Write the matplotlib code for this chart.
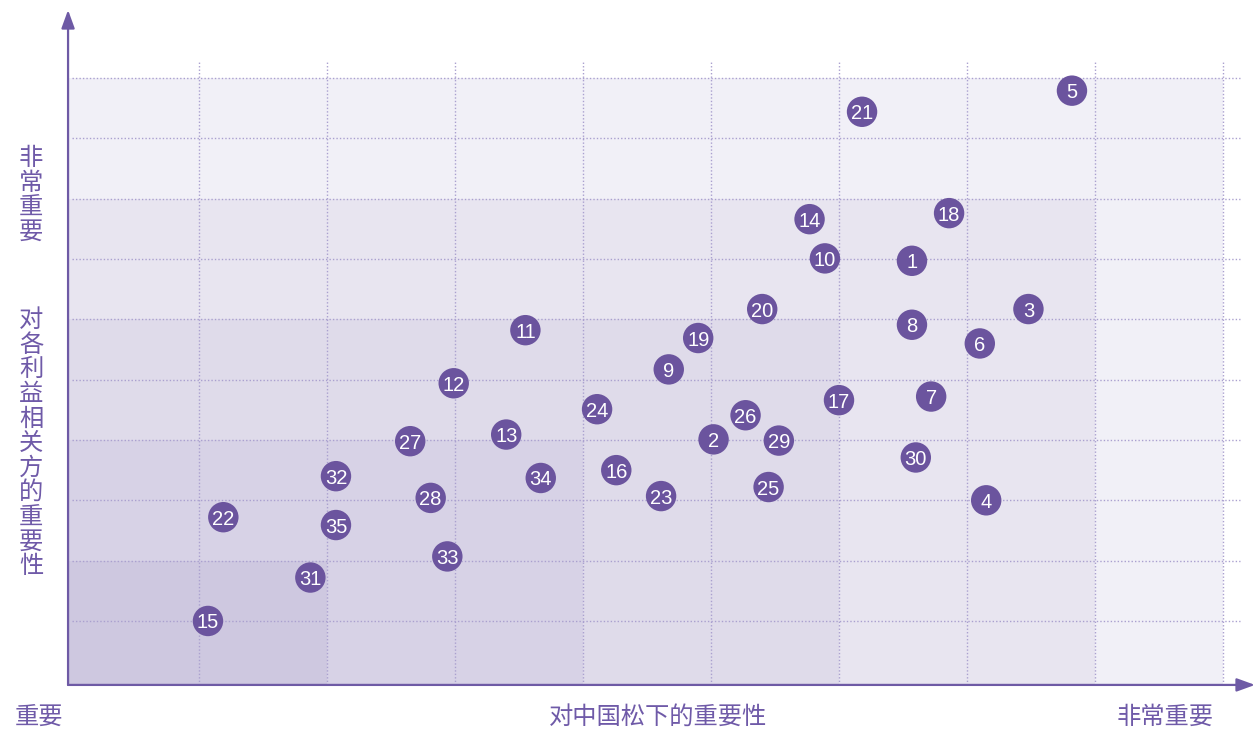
import matplotlib.pyplot as plt
from matplotlib.patches import Rectangle

plt.rcParams['font.family'] = ['Noto Sans CJK SC', 'DejaVu Sans']

# 议题编号及其在矩阵中的位置（横轴：对中国松下的重要性，纵轴：对各利益相关方的重要性）
ids = list(range(1, 36))
x_val = [6.57, 5.02, 7.48, 7.15, 7.82, 7.10, 6.72, 6.57, 4.67, 5.89,
         3.55, 2.99, 3.40, 5.77, 1.07, 4.26, 6.00, 6.86, 4.90, 5.40,
         6.18, 1.19, 4.61, 4.11, 5.45, 5.27, 2.65, 2.81, 5.53, 6.60,
         1.87, 2.07, 2.94, 3.67, 2.07]
y_val = [6.97, 4.01, 6.17, 3.00, 9.79, 5.60, 4.72, 5.91, 5.17, 7.01,
         5.82, 4.94, 4.09, 7.66, 1.00, 3.50, 4.66, 7.76, 5.69, 6.17,
         9.44, 2.72, 3.07, 4.51, 3.22, 4.41, 3.98, 3.04, 3.99, 3.71,
         1.72, 3.40, 2.07, 3.37, 2.59]

# 背景分区（右上角坐标），由浅到深
zone_x = [9, 8, 6, 4, 2]
zone_y = [10, 8, 6, 4, 2]
zone_colors = ['#f1f0f7', '#e8e5f0', '#dfdbea', '#d7d2e6', '#cec8e0']

purple = '#6b549e'
line_purple = '#6e5aa5'
text_purple = '#6f5aa8'
grid_color = '#aaa0cf'

fig = plt.figure(figsize=(12.55, 7.32), dpi=100)
ax = fig.add_axes([0, 0, 1, 1])
# 一个格子 = 128 px 宽、60.33 px 高
ax.set_xlim(-71 / 128, (1255 - 71) / 128)
ax.set_ylim((681.3 - 732) / 60.33, 681.3 / 60.33)
ax.axis('off')

x0, y0 = -0.023, -0.06

for zx, zy, c in zip(zone_x, zone_y, zone_colors):
    ax.add_patch(Rectangle((x0, y0), zx - x0, zy - y0, facecolor=c,
                           edgecolor='none', zorder=0))

# 虚线网格
for gx in range(1, 10):
    ax.plot([gx, gx], [y0, 10.3], color=grid_color, lw=1.0,
            linestyle=(0, (1.0, 1.5)), zorder=1)
for gy in range(1, 11):
    ax.plot([0.01, 9.13], [gy, gy], color=grid_color, lw=1.0,
            linestyle=(0, (1.0, 1.5)), zorder=1)

# 坐标轴箭头
arrow = dict(arrowstyle='-|>,head_length=1.1,head_width=0.4',
             color=line_purple, lw=1.6, shrinkA=0, shrinkB=0)
ax.annotate('', xy=(x0, (681.3 - 10) / 60.33), xytext=(x0, y0),
            arrowprops=arrow, zorder=3)
ax.annotate('', xy=((1255 - 71) / 128, y0), xytext=(x0, y0),
            arrowprops=arrow, zorder=3)

# 议题圆点
ax.scatter(x_val, y_val, s=480, color=purple, edgecolors='none', zorder=4)
for i, xv, yv in zip(ids, x_val, y_val):
    ax.text(xv, yv, str(i), color='white', fontsize=14.5,
            family=['Liberation Sans', 'DejaVu Sans'],
            ha='center', va='center_baseline', zorder=5)

# 轴标签
label_kw = dict(color=text_purple, fontsize=17.5)
ax.text((39 - 71) / 128, (681.3 - 717) / 60.33, '重要',
        ha='center', va='center', **label_kw)
ax.text((658 - 71) / 128, (681.3 - 717) / 60.33, '对中国松下的重要性',
        ha='center', va='center', **label_kw)
ax.text((1165 - 71) / 128, (681.3 - 717) / 60.33, '非常重要',
        ha='center', va='center', **label_kw)

ax.text((31 - 71) / 128, (681.3 - 195) / 60.33, '\n'.join('非常重要'),
        ha='center', va='center', linespacing=0.93, **label_kw)
ax.text((31 - 71) / 128, (681.3 - 443) / 60.33, '\n'.join('对各利益相关方的重要性'),
        ha='center', va='center', linespacing=0.93, **label_kw)

fig.savefig('out.png', dpi=100)
